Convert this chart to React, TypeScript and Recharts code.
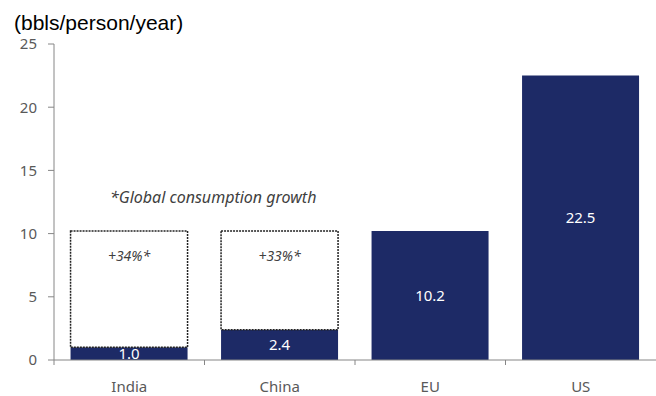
import React from 'react';
import { Bar, BarChart, LabelList, XAxis, YAxis } from 'recharts';

const regions = ['India', 'China', 'EU', 'US'];
const consumption = [1.0, 2.4, 10.2, 22.5];
const projected = [10.2, 10.2, null, null];
const growthLabels = ['+34%*', '+33%*', '', ''];
const yTicks = [0, 5, 10, 15, 20, 25];

const NAVY = '#1d2a66';
const GREY = '#595959';
const AXIS = '#868686';
const FONT = '"Noto Sans", "Open Sans", sans-serif';

const data = regions.map((r, i) => ({
  region: r,
  base: consumption[i],
  growth: projected[i] != null ? (projected[i] as number) - consumption[i] : 0,
  growthLabel: growthLabels[i],
}));

const BAND = 602 / regions.length;

function XTick(props: any) {
  const { x, y, payload } = props;
  return (
    <g>
      <line x1={x - BAND / 2} x2={x - BAND / 2} y1={y - 8} y2={y - 3} stroke={AXIS} />
      <text x={x} y={y + 24} textAnchor="middle" fill={GREY} fontSize={15} fontFamily={FONT}>
        {payload.value}
      </text>
    </g>
  );
}

export default function App() {
  return (
    <div style={{ position: 'absolute', left: 0, top: 0, width: 656, height: 396, background: '#fff' }}>
      <div
        style={{
          position: 'absolute',
          left: 14,
          top: 11,
          fontFamily: '"Liberation Sans", Arial, sans-serif',
          fontSize: 21,
          lineHeight: '24px',
          color: '#000',
        }}
      >
        (bbls/person/year)
      </div>
      <div
        style={{
          position: 'absolute',
          left: 110,
          top: 187,
          fontFamily: FONT,
          fontStyle: 'italic',
          fontSize: 16,
          lineHeight: '20px',
          color: '#404040',
          whiteSpace: 'nowrap',
        }}
      >
        *Global consumption growth
      </div>
      <BarChart
        width={656}
        height={396}
        data={data}
        margin={{ top: 44, right: 0, bottom: 0, left: 0 }}
        barCategoryGap="11%"
      >
        <XAxis
          dataKey="region"
          height={36}
          axisLine={{ stroke: AXIS }}
          tickLine={false}
          tick={<XTick />}
          interval={0}
        />
        <YAxis
          width={54}
          domain={[0, 25]}
          ticks={yTicks}
          axisLine={{ stroke: AXIS }}
          tickLine={{ stroke: AXIS }}
          tickSize={6}
          tickMargin={11}
          tick={{ fill: GREY, fontSize: 15, fontFamily: FONT }}
        />
        <Bar dataKey="base" stackId="a" fill={NAVY} isAnimationActive={false}>
          <LabelList
            dataKey="base"
            position="center"
            fill="#fff"
            fontSize={15}
            fontFamily={FONT}
            formatter={(v: any) => Number(v).toFixed(1)}
          />
        </Bar>
        <Bar
          dataKey="growth"
          stackId="a"
          fill="#fff"
          stroke="#222"
          strokeWidth={1.5}
          strokeDasharray="2 1"
          isAnimationActive={false}
        >
          <LabelList
            dataKey="growthLabel"
            position="insideTop"
            offset={20}
            fill="#404040"
            fontSize={14}
            fontStyle="italic"
            fontFamily={FONT}
          />
        </Bar>
      </BarChart>
    </div>
  );
}
